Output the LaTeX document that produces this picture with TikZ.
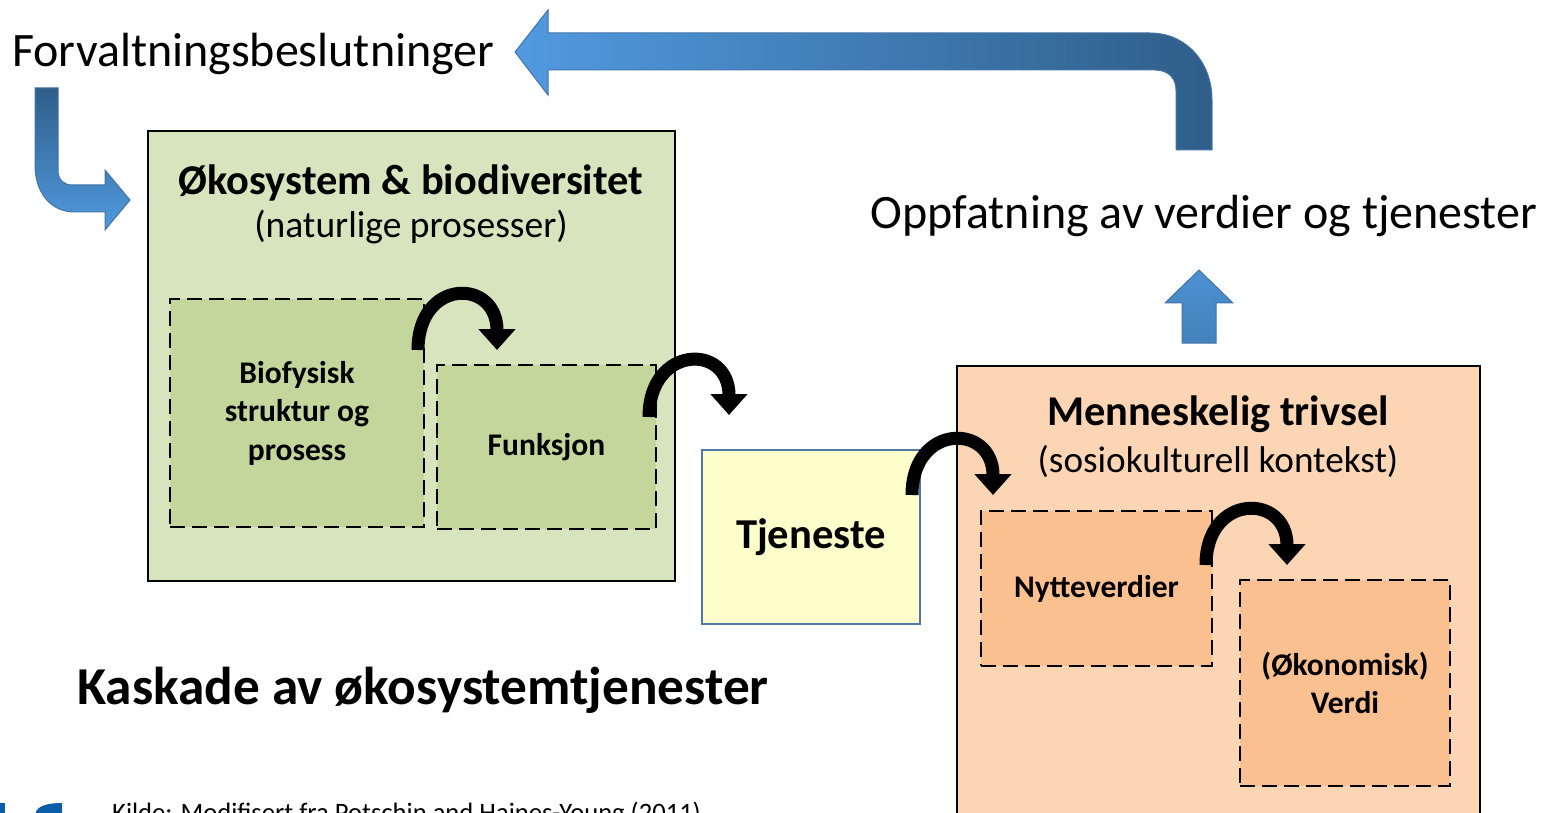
\documentclass[tikz,border=0pt]{standalone}
\usepackage{fontspec}
\setmainfont{Carlito}
\usetikzlibrary{arrows.meta}

\definecolor{ecofill}{HTML}{D7E4BD}
\definecolor{ecoinner}{HTML}{C3D69B}
\definecolor{tjenfill}{HTML}{FFFFCC}
\definecolor{tjenline}{HTML}{5079A8}
\definecolor{humfill}{HTML}{FCD5B5}
\definecolor{huminner}{HTML}{FAC090}
\definecolor{arrowlight}{HTML}{519ADF}
\definecolor{arrowdark}{HTML}{2F5E89}
\definecolor{arrowline}{HTML}{4474A8}
\definecolor{logoblue}{HTML}{0B5DA8}

\begin{document}
\begin{tikzpicture}[x=1pt,y=-1pt,
    bigbox/.style={draw=black,line width=2pt,inner sep=0pt},
    dashbox/.style={draw=black,line width=2.7pt,dash pattern=on 15pt off 7pt,
      inner sep=0pt,align=center,font=\fontsize{31.5}{38.5}\selectfont\bfseries},
    turn/.style={line width=13pt,-{Triangle[width=36pt,length=21pt]}},
    blockarrow/.style={draw=arrowline,line width=1pt}]

  \def\turnarrow(#1)(#2){
    \draw[turn] (#1) .. controls +(0,-72) and +(0,-72) .. (#2);
  }

  \useasboundingbox (0,0) rectangle (1543,813);
  \clip (0,0) rectangle (1543,813);

  % Draw ecosystem box
  \node[bigbox,fill=ecofill,minimum width=527pt,minimum height=450pt] (eco) at (411.5,356) {};
  \node[anchor=base,font=\fontsize{42.4}{50}\selectfont\bfseries] (ecotitle) at (411,195) {Økosystem \& biodiversitet};
  \node[anchor=base,font=\fontsize{37.5}{45}\selectfont] (ecosub) at (411,238) {(naturlige prosesser)};
  \node[dashbox,fill=ecoinner,minimum width=254pt,minimum height=228pt] (bio) at (297,413) {Biofysisk\\struktur og\\prosess};
  \node[dashbox,fill=ecoinner,minimum width=219pt,minimum height=164pt] (func) at (546.5,447) {Funksjon};

  % Draw service box
  \node[draw=tjenline,line width=2pt,fill=tjenfill,minimum width=218pt,minimum height=174pt,
        font=\fontsize{42.6}{50}\selectfont\bfseries] (tjen) at (811,537) {Tjeneste};

  % Draw human wellbeing box
  \node[bigbox,fill=humfill,minimum width=523pt,minimum height=474pt] (hum) at (1218.5,603) {};
  \node[anchor=base,font=\fontsize{42.4}{50}\selectfont\bfseries] (humtitle) at (1218,425) {Menneskelig trivsel};
  \node[anchor=base,font=\fontsize{37.2}{45}\selectfont] (humsub) at (1218,472) {(sosiokulturell kontekst)};
  \node[dashbox,fill=huminner,minimum width=231pt,minimum height=155pt] (nytte) at (1096.5,588.5) {Nytteverdier};
  \node[dashbox,fill=huminner,minimum width=210pt,minimum height=206pt] (verdi) at (1345,683) {(Økonomisk)\\Verdi};

  % Draw free texts
  \node[anchor=base west,inner sep=0pt,font=\fontsize{48}{58}\selectfont] (forv) at (12,67) {Forvaltningsbeslutninger};
  \node[anchor=base,inner sep=0pt,font=\fontsize{48}{58}\selectfont] (oppf) at (1204,229) {Oppfatning av verdier og tjenester};
  \node[anchor=base,inner sep=0pt,font=\fontsize{53.3}{64}\selectfont\bfseries] (kask) at (423,704) {Kaskade av økosystemtjenester};
  \node[anchor=base west,inner sep=0pt,font=\fontsize{26.6}{32}\selectfont] (kilde) at (112,821) {Kilde: Modifisert fra Potschin and Haines-Young (2011)};

  % Draw logo corner
  \fill[logoblue] (0,803) rectangle (5,830);
  \fill[logoblue] (35,830) -- (35,816) .. controls (35,807) and (45,803) .. (62,803) -- (62,830) -- cycle;

  % Draw cascade arrows
  \coordinate (a1s) at (418,350);
  \coordinate (a1e) at (497,350);
  \coordinate (a2s) at (649,417);
  \coordinate (a2e) at (729,415);
  \coordinate (a3s) at (912,495);
  \coordinate (a3e) at (993,495);
  \coordinate (a4s) at (1206,565);
  \coordinate (a4e) at (1287,565);
  \turnarrow(a1s)(a1e)
  \turnarrow(a2s)(a2e)
  \turnarrow(a3s)(a3e)
  \turnarrow(a4s)(a4e)

  % Draw feedback arrow
  \path[blockarrow,left color=arrowlight,right color=arrowdark]
    (1176,150) -- (1176,90) .. controls (1176,78) and (1168,70) .. (1155,70)
    -- (548,70) -- (548,95) -- (515,52) -- (548,10) -- (548,33) -- (1150,33)
    .. controls (1186,33) and (1212,62) .. (1212,100) -- (1212,150) -- cycle;

  % Draw management arrow
  \path[blockarrow,top color=arrowdark,bottom color=arrowlight]
    (35,88) -- (35,165) .. controls (35,192) and (50,212) .. (75,212)
    -- (105,212) -- (105,230) -- (130,200) -- (105,170) -- (105,185)
    -- (72,185) .. controls (64,185) and (58,180) .. (58,170) -- (58,88) -- cycle;

  % Draw perception arrow
  \path[blockarrow,top color=arrowlight!85!arrowdark,bottom color=arrowlight!60!arrowdark]
    (1182,343) -- (1182,303) -- (1165,303) -- (1199,270) -- (1233,303)
    -- (1216,303) -- (1216,343) -- cycle;
\end{tikzpicture}
\end{document}
